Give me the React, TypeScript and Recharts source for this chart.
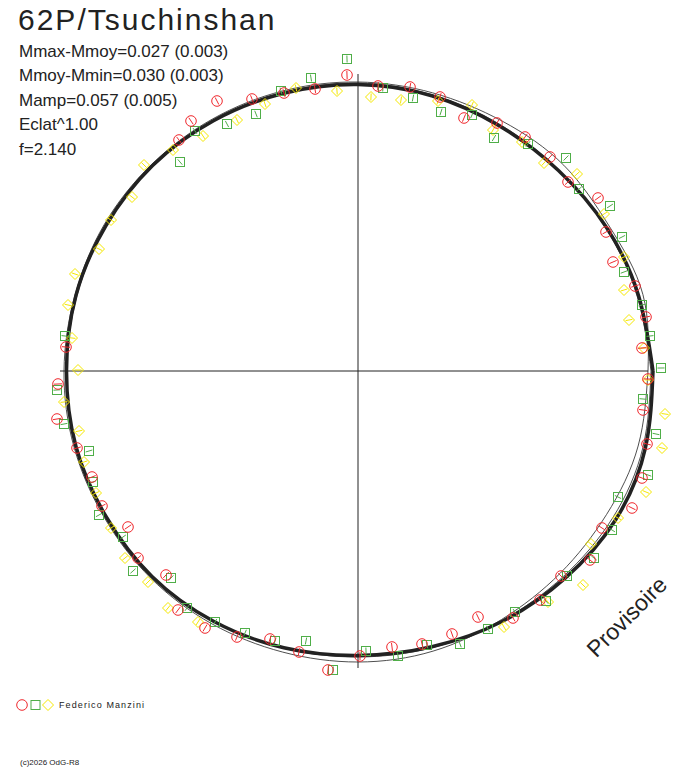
import React from "react";
import { ScatterChart, Scatter, XAxis, YAxis, ReferenceLine } from "recharts";

// phase angle of the fitted curves, degrees (0 = right, counter-clockwise)
const phaseDeg = [0, 15, 30, 45, 60, 75, 90, 105, 120, 135, 150, 165, 180, 195, 210, 225, 240, 255, 270, 285, 300, 315, 330, 345];

// radius of the fitted light curve (thick band) and the two thin curves
const fitBand = [2.95, 2.905, 2.87, 2.835, 2.83, 2.85, 2.865, 2.875, 2.89, 2.905, 2.91, 2.92, 2.915, 2.92, 2.91, 2.91, 2.89, 2.865, 2.845, 2.855, 2.89, 2.93, 2.975, 2.975];
const fitOuter = [2.9, 2.95, 2.9, 2.91, 2.885, 2.88, 2.89, 2.9, 2.91, 2.92, 2.93, 2.93, 2.94, 2.94, 2.93, 2.93, 2.92, 2.91, 2.91, 2.9, 2.87, 2.86, 2.87, 2.9];
const fitInner = [2.93, 2.89, 2.86, 2.84, 2.845, 2.86, 2.88, 2.885, 2.895, 2.9, 2.905, 2.91, 2.91, 2.915, 2.905, 2.9, 2.885, 2.87, 2.86, 2.865, 2.88, 2.905, 2.94, 2.95];

// observations, [x, y] in plot units (circles / squares / diamonds)
const redObs: [number, number][] = [
  [-0.11, 2.96], [-1.41, 2.7], [-1.67, 2.5], [-1.79, 2.31], [-1.06, 2.72], [-0.74, 2.78], [-0.43, 2.82], [-2.92, 0.24],
  [0.2, 2.85], [0.52, 2.84], [0.82, 2.74], [1.06, 2.53], [1.39, 2.48], [1.67, 2.34], [1.92, 2.14], [2.1, 1.89],
  [2.4, 1.73], [2.48, 1.39], [2.55, 1.09], [2.77, 0.85], [2.88, 0.54], [2.84, 0.23],
  [2.9, -0.08], [2.85, -0.39], [2.89, -0.73], [2.84, -1.07], [2.74, -1.37], [2.44, -1.57], [2.32, -1.89], [2.03, -2.05],
  [1.82, -2.29], [1.55, -2.47], [1.2, -2.46], [0.94, -2.63], [0.64, -2.73], [0.34, -2.76], [0.02, -2.85],
  [-3.0, -0.13], [-3.01, -0.48], [-2.81, -0.77], [-2.66, -1.06], [-2.56, -1.35], [-2.3, -1.56], [-2.2, -1.87],
  [-1.92, -2.04], [-1.8, -2.39], [-1.53, -2.57], [-1.21, -2.66], [-0.88, -2.68], [-0.59, -2.81], [-0.3, -2.99],
];
const greenObs: [number, number][] = [
  [-0.11, 3.12], [-0.47, 2.93], [-0.77, 2.8], [-1.02, 2.57], [-1.31, 2.47], [-1.63, 2.4], [-1.78, 2.09], [-2.93, 0.35],
  [0.25, 2.83], [0.55, 2.73], [0.83, 2.59], [1.14, 2.56], [1.36, 2.33], [1.7, 2.27], [2.08, 2.13], [2.21, 1.82],
  [2.52, 1.65], [2.64, 1.34], [2.66, 0.99], [2.84, 0.66], [2.92, 0.35], [3.03, 0.03],
  [2.85, -0.28], [2.98, -0.63], [2.9, -1.04], [2.6, -1.26], [2.54, -1.59], [2.36, -1.87], [2.09, -2.05], [1.88, -2.3],
  [1.57, -2.41], [1.3, -2.58], [1.02, -2.73], [0.69, -2.74], [0.4, -2.85], [0.08, -2.8],
  [-3.01, -0.19], [-2.94, -0.53], [-2.69, -0.8], [-2.65, -1.11], [-2.59, -1.44], [-2.35, -1.66], [-2.25, -2.0],
  [-1.87, -2.07], [-1.71, -2.37], [-1.43, -2.51], [-1.13, -2.62], [-0.83, -2.7], [-0.52, -2.7], [-0.25, -2.99],
];
const yellowObs: [number, number][] = [
  [-0.21, 2.8], [-0.62, 2.83], [-0.93, 2.67], [-1.21, 2.51], [-1.55, 2.35], [-1.85, 2.21], [-2.14, 2.06], [-2.26, 1.74],
  [-2.47, 1.51], [-2.59, 1.22], [-2.83, 0.97], [-2.9, 0.66], [-2.86, 0.33], [-2.8, 0.01],
  [0.13, 2.74], [0.43, 2.71], [0.8, 2.7], [1.14, 2.66], [1.35, 2.41], [1.64, 2.29], [1.86, 2.08], [2.19, 1.97],
  [2.46, 1.57], [2.66, 1.14], [2.66, 0.81], [2.71, 0.51], [2.86, 0.23],
  [2.9, -0.09], [3.07, -0.43], [3.04, -0.77], [2.88, -1.21], [2.6, -1.47], [2.33, -1.73], [2.25, -2.14], [1.9, -2.31], [1.46, -2.56],
  [-2.94, -0.31], [-2.79, -0.6], [-2.74, -0.91], [-2.62, -1.22], [-2.47, -1.57], [-2.33, -1.87], [-2.1, -2.11], [-1.9, -2.37], [-1.6, -2.51],
];

// cross axes extents
const axisX = [-2.98, 2.9];
const axisY = [-2.97, 2.97];

const stats = [
  "Mmax-Mmoy=0.027 (0.003)",
  "Mmoy-Mmin=0.030 (0.003)",
  "Mamp=0.057 (0.005)",
  "Eclat^1.00",
  "f=2.140",
];

const RED = "#f0282d";
const GREEN = "#4fae48";
const YELLOW = "#f5e800";
const INK = "#222";

const curve = (radii: number[]) => {
  const pts = phaseDeg.map((a, i) => ({
    x: radii[i] * Math.cos((a * Math.PI) / 180),
    y: radii[i] * Math.sin((a * Math.PI) / 180),
  }));
  return [...pts, pts[0]];
};
const toPts = (arr: [number, number][]) => arr.map(([x, y]) => ({ x, y }));

const Nothing = () => <g />;

const makeMarker = (kind: "circle" | "square" | "diamond", color: string) => (props: any) => {
  const { cx, cy, payload } = props;
  if (cx == null || cy == null) return <g />;
  const d = Math.hypot(payload.x, payload.y) || 1;
  const ux = payload.x / d;
  const uy = -payload.y / d;
  const h = kind === "circle" ? 4 : 3.5;
  const tick = (
    <line x1={cx - ux * h} y1={cy - uy * h} x2={cx + ux * h} y2={cy + uy * h} stroke={color} strokeWidth={1} />
  );
  if (kind === "circle")
    return (
      <g>
        <circle cx={cx} cy={cy} r={5.3} fill="none" stroke={color} strokeWidth={1} />
        {tick}
      </g>
    );
  if (kind === "square")
    return (
      <g>
        <rect x={cx - 4.5} y={cy - 4.5} width={9} height={9} fill="none" stroke={color} strokeWidth={1} />
        {tick}
      </g>
    );
  return (
    <g>
      <polygon
        points={`${cx},${cy - 5.5} ${cx + 5.5},${cy} ${cx},${cy + 5.5} ${cx - 5.5},${cy}`}
        fill="none"
        stroke={color}
        strokeWidth={1}
      />
      {tick}
    </g>
  );
};

const font = "'Liberation Sans', Arial, sans-serif";

export default function App() {
  return (
    <div style={{ position: "relative", width: 688, height: 768, background: "#fff", fontFamily: font, color: INK }}>
      <style>{"body{margin:0}"}</style>
      <ScatterChart width={688} height={768} margin={{ top: 0, right: 0, bottom: 0, left: 0 }}>
        <XAxis type="number" dataKey="x" domain={[-3.58, 3.3]} hide allowDataOverflow />
        <YAxis type="number" dataKey="y" domain={[-3.97, 3.71]} hide allowDataOverflow />
        <ReferenceLine segment={[{ x: axisX[0], y: 0 }, { x: axisX[1], y: 0 }]} stroke={INK} strokeWidth={1} />
        <ReferenceLine segment={[{ x: 0, y: axisY[0] }, { x: 0, y: axisY[1] }]} stroke={INK} strokeWidth={1} />
        <Scatter data={curve(fitOuter)} line={{ stroke: INK, strokeWidth: 0.8 }} lineJointType="natural" shape={Nothing} isAnimationActive={false} />
        <Scatter data={curve(fitInner)} line={{ stroke: INK, strokeWidth: 0.8 }} lineJointType="natural" shape={Nothing} isAnimationActive={false} />
        <Scatter data={curve(fitBand)} line={{ stroke: INK, strokeWidth: 3.5 }} lineJointType="natural" shape={Nothing} isAnimationActive={false} />
        <Scatter data={toPts(yellowObs)} shape={makeMarker("diamond", YELLOW)} isAnimationActive={false} />
        <Scatter data={toPts(greenObs)} shape={makeMarker("square", GREEN)} isAnimationActive={false} />
        <Scatter data={toPts(redObs)} shape={makeMarker("circle", RED)} isAnimationActive={false} />
      </ScatterChart>

      <div style={{ position: "absolute", left: 18, top: 3, fontSize: 30, letterSpacing: 2, whiteSpace: "nowrap" }}>
        62P/Tsuchinshan
      </div>
      {stats.map((s, i) => (
        <div
          key={s}
          style={{ position: "absolute", left: 19, top: 41.5 + i * 24.5, fontSize: 17, whiteSpace: "nowrap", lineHeight: "20px" }}
        >
          {s}
        </div>
      ))}
      <div
        style={{
          position: "absolute",
          left: 627,
          top: 617,
          fontSize: 23,
          whiteSpace: "nowrap",
          transform: "translate(-50%, -50%) rotate(-45deg)",
        }}
      >
        Provisoire
      </div>
      <svg style={{ position: "absolute", left: 14, top: 698 }} width={42} height={14}>
        <circle cx={8} cy={7} r={5.3} fill="none" stroke={RED} strokeWidth={1} />
        <rect x={17} y={2.5} width={9} height={9} fill="none" stroke={GREEN} strokeWidth={1} />
        <polygon points="34,1.5 39.5,7 34,12.5 28.5,7" fill="none" stroke={YELLOW} strokeWidth={1} />
      </svg>
      <div style={{ position: "absolute", left: 59, top: 700, fontSize: 9, letterSpacing: 1.1, whiteSpace: "nowrap", lineHeight: "11px" }}>
        Federico Manzini
      </div>
      <div style={{ position: "absolute", left: 20, top: 758, fontSize: 8, whiteSpace: "nowrap", lineHeight: "10px" }}>
        (c)2026 OdG-R8
      </div>
    </div>
  );
}
